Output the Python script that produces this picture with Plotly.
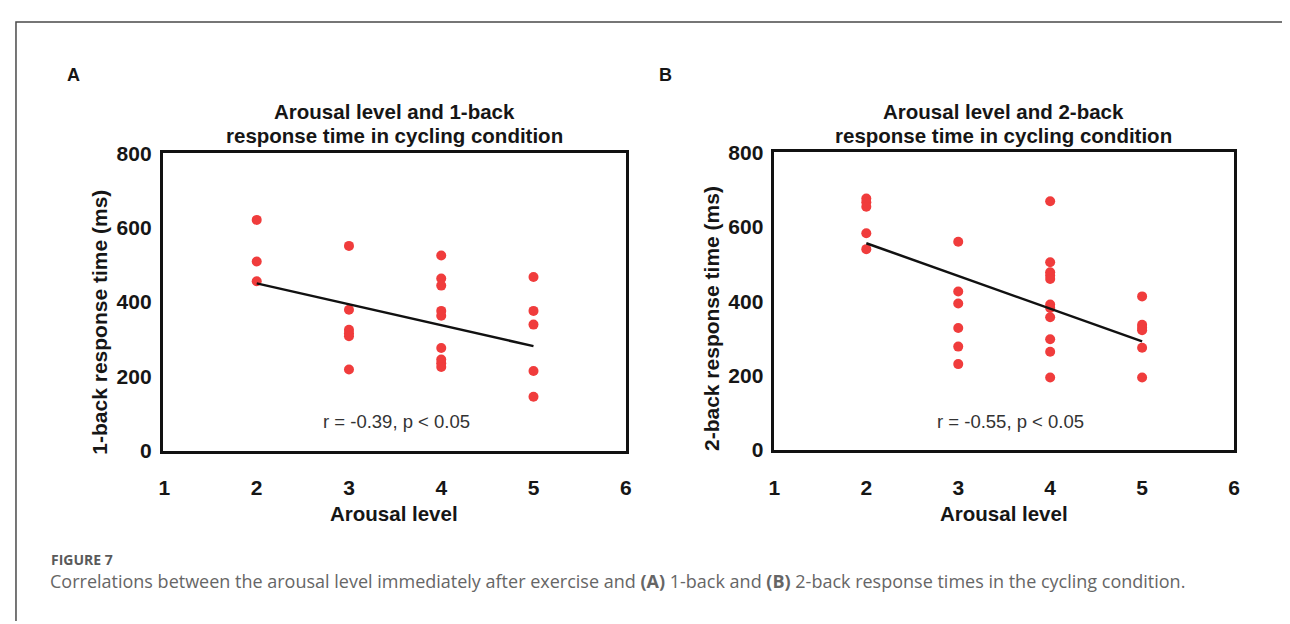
import plotly.graph_objects as go

W, H = 1290, 624
OFF = 8  # page body margin offset of the rendered figure

# ---------------- data ----------------
arousal_a = [2, 2, 2,
             3, 3, 3, 3, 3, 3,
             4, 4, 4, 4, 4, 4, 4, 4, 4,
             5, 5, 5, 5, 5]
rt_1back = [621, 509, 456,
            551, 379, 325, 316, 308, 218,
            525, 463, 444, 376, 363, 276, 245, 235, 225,
            467, 376, 339, 214, 145]

arousal_b = [2, 2, 2, 2, 2,
             3, 3, 3, 3, 3, 3,
             4, 4, 4, 4, 4, 4, 4, 4, 4, 4, 4,
             5, 5, 5, 5, 5, 5]
rt_2back = [676, 666, 654, 583, 540,
            560, 426, 394, 328, 278, 231,
            669, 505, 478, 469, 460, 391, 382, 357, 298, 264, 195,
            413, 337, 329, 322, 275, 195]

fit_x = [2, 5]
fit_a = [450, 281]
fit_b = [556, 292]

x_ticks = [1, 2, 3, 4, 5, 6]
y_ticks = [0, 200, 400, 600, 800]

title_a = ["Arousal level and 1-back", "response time in cycling condition"]
title_b = ["Arousal level and 2-back", "response time in cycling condition"]
ytitle_a = "1-back response time (ms)"
ytitle_b = "2-back response time (ms)"
xtitle = "Arousal level"
stat_a = "r = -0.39, p < 0.05"
stat_b = "r = -0.55, p < 0.05"
caption_head = "FIGURE 7"
caption = ("Correlations between the arousal level immediately after exercise and "
           "<b>(A)</b> 1-back and <b>(B)</b> 2-back response times in the cycling condition.")


def px(x):
    return (x - OFF) / W


def py(y):
    return 1 - (y - OFF) / H


RED = "#f03c3c"
TXT = "#161616"
FONT = "Liberation Sans, Arial, sans-serif"

fig = go.Figure()
fig.add_trace(go.Scatter(x=arousal_a, y=rt_1back, mode="markers",
                         marker=dict(color=RED, size=10), xaxis="x", yaxis="y",
                         showlegend=False))
fig.add_trace(go.Scatter(x=fit_x, y=fit_a, mode="lines",
                         line=dict(color="#111111", width=2.5), xaxis="x", yaxis="y",
                         showlegend=False))
fig.add_trace(go.Scatter(x=arousal_b, y=rt_2back, mode="markers",
                         marker=dict(color=RED, size=10), xaxis="x2", yaxis="y2",
                         showlegend=False))
fig.add_trace(go.Scatter(x=fit_x, y=fit_b, mode="lines",
                         line=dict(color="#111111", width=2.5), xaxis="x2", yaxis="y2",
                         showlegend=False))

common_x = dict(tickvals=x_ticks, showgrid=False, zeroline=False, showline=True,
                linecolor="#111111", linewidth=2.5, mirror=True, ticks="",
                ticklabelstandoff=17,
                tickfont=dict(family=FONT, size=21, color=TXT, weight="bold"))
common_y = dict(tickvals=y_ticks, range=[0, 800], showgrid=False, zeroline=False,
                showline=True, linecolor="#111111", linewidth=2.5, mirror=True,
                ticks="", ticklabelstandoff=4,
                tickfont=dict(family=FONT, size=21, color=TXT, weight="bold"))

fig.update_layout(
    width=W, height=H,
    margin=dict(l=0, r=0, t=0, b=0),
    paper_bgcolor="white", plot_bgcolor="white",
    xaxis=dict(common_x, range=[0.98, 6.0], domain=[px(158), px(625.5)], anchor="y"),
    yaxis=dict(common_y, domain=[py(455), py(146.5)], anchor="x"),
    xaxis2=dict(common_x, range=[1.0, 6.0], domain=[px(775.5), px(1239.5)], anchor="y2"),
    yaxis2=dict(common_y, domain=[py(454.5), py(145.5)], anchor="x2"),
    shapes=[
        dict(type="path", xref="paper", yref="paper",
             path=f"M {px(10)} 0 L {px(10)} {py(10)} L 1 {py(10)}",
             line=dict(color="#4a4a4a", width=1.5)),
    ],
)

ann = []


def add_text(text, x, y, size, bold=False, color=TXT, family=FONT, xanchor="center",
             angle=0):
    ann.append(dict(text=text, x=px(x), y=py(y), xref="paper", yref="paper",
                    showarrow=False, xanchor=xanchor, yanchor="middle", textangle=angle,
                    font=dict(family=family, size=size, color=color,
                              weight="bold" if bold else "normal")))


# panel letters
add_text("A", 68, 65, 18, bold=True)
add_text("B", 666, 65, 18, bold=True)
# titles (two lines each)
add_text(title_a[0], 392, 103, 20.5, bold=True)
add_text(title_a[1], 392, 128, 20.5, bold=True)
add_text(title_b[0], 1007, 103, 20.5, bold=True)
add_text(title_b[1], 1007, 128, 20.5, bold=True)
# x titles
add_text(xtitle, 392, 520, 20.5, bold=True)
add_text(xtitle, 1007, 520, 20.5, bold=True)
# y titles
add_text(ytitle_a, 94, 322, 21, bold=True, angle=-90)
add_text(ytitle_b, 712, 318, 21, bold=True, angle=-90)
# stats
ann.append(dict(text=stat_a, x=3.52, y=78, xref="x", yref="y", showarrow=False,
                font=dict(family=FONT, size=18.5, color="#333333")))
ann.append(dict(text=stat_b, x=3.57, y=77, xref="x2", yref="y2", showarrow=False,
                font=dict(family=FONT, size=18.5, color="#333333")))
# caption
add_text(caption_head, 43, 568, 14, bold=True, color="#5a5a5a",
         family="Open Sans, sans-serif", xanchor="left")
add_text(caption, 42, 590, 18, color="#666666", family="Open Sans, sans-serif",
         xanchor="left")

fig.update_layout(annotations=ann)

fig.write_html("out.html")
